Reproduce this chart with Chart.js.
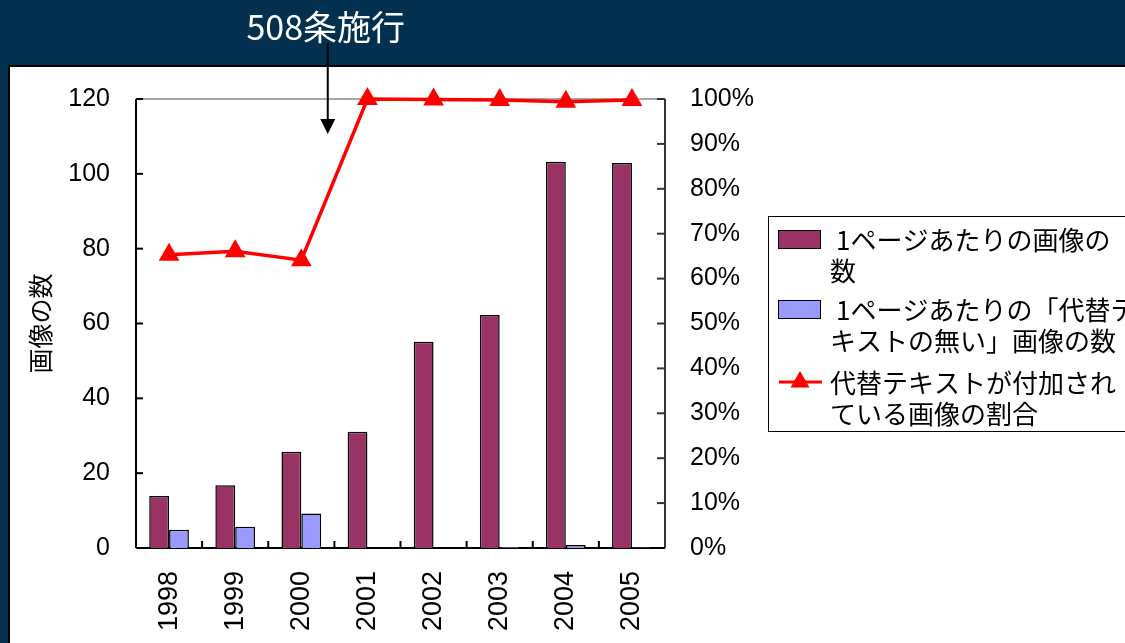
<!DOCTYPE html>
<html><head><meta charset="utf-8">
<script src="https://cdn.jsdelivr.net/npm/chart.js@4/dist/chart.umd.min.js"></script>
<style>
html,body{margin:0;padding:0;width:1125px;height:643px;overflow:hidden;background:#03304f;}
#panel{position:absolute;left:8px;top:65px;width:1200px;height:700px;background:#fff;border:2px solid #000;box-sizing:border-box;}
#wrap{position:absolute;left:0;top:0;width:1125px;height:643px;}
</style></head><body>
<div id="panel"></div>
<div id="wrap"><canvas id="c" width="1125" height="643"></canvas></div>
<script>
const categories = ['1998','1999','2000','2001','2002','2003','2004','2005'];
const imagesPerPage = [13.9, 16.8, 25.7, 31.1, 55.1, 62.3, 103.2, 102.9];
const imagesWithoutAlt = [4.9, 5.7, 9.2, 0, 0, 0.3, 0.8, 0.2];
const altTextRatio = [65.3, 66.1, 64.1, 100, 99.9, 99.8, 99.4, 99.8];
const leftAxisTicks = [0, 20, 40, 60, 80, 100, 120];
const rightAxisTicks = [0, 10, 20, 30, 40, 50, 60, 70, 80, 90, 100];
const seriesNames = ['1ページあたりの画像の数', '1ページあたりの「代替テキストの無い」画像の数', '代替テキストが付加されている画像の割合'];
const legendLines = [['1ページあたりの画像の', '数'], ['1ページあたりの「代替テ', 'キストの無い」画像の数'], ['代替テキストが付加され', 'ている画像の割合']];
const yAxisTitle = '画像の数';
const annotationText = '508条施行';

const NUM_FONT = "'Liberation Sans', Arial, sans-serif";
const JP_FONT = "'Noto Sans CJK JP', 'Noto Sans', sans-serif";

const decor = {
  id: 'decor',
  beforeDatasetsDraw(chart) {
    const ctx = chart.ctx, a = chart.chartArea;
    const y = chart.scales.y, y1 = chart.scales.y1, x = chart.scales.x;
    ctx.save();
    ctx.strokeStyle = '#a6a6a6'; ctx.lineWidth = 2;
    ctx.beginPath(); ctx.moveTo(a.left, a.top); ctx.lineTo(a.right, a.top); ctx.stroke();
    ctx.strokeStyle = '#000'; ctx.lineWidth = 2;
    ctx.beginPath(); ctx.moveTo(a.left, a.top); ctx.lineTo(a.left, a.bottom); ctx.stroke();
    leftAxisTicks.forEach(v => { const p = y.getPixelForValue(v); ctx.beginPath(); ctx.moveTo(a.left, p); ctx.lineTo(a.left + 7, p); ctx.stroke(); });
    ctx.strokeStyle = '#333';
    ctx.beginPath(); ctx.moveTo(a.right, a.top); ctx.lineTo(a.right, a.bottom); ctx.stroke();
    rightAxisTicks.forEach(v => { const p = y1.getPixelForValue(v); ctx.beginPath(); ctx.moveTo(a.right, p); ctx.lineTo(a.right - 8, p); ctx.stroke(); });
    ctx.strokeStyle = '#000';
    ctx.beginPath(); ctx.moveTo(a.left, a.bottom); ctx.lineTo(a.right, a.bottom); ctx.stroke();
    for (let i = 1; i < categories.length; i++) {
      const p = (x.getPixelForValue(i - 1) + x.getPixelForValue(i)) / 2;
      ctx.beginPath(); ctx.moveTo(p, a.bottom); ctx.lineTo(p, a.bottom - 7); ctx.stroke();
    }
    ctx.restore();
  },
  afterDraw(chart) {
    const ctx = chart.ctx, x = chart.scales.x;
    const ds = chart.data.datasets;
    ctx.save();
    const ax = x.getPixelForValue(2) + 0.4 * (x.getPixelForValue(3) - x.getPixelForValue(2));
    ctx.fillStyle = '#fff';
    ctx.font = "34px " + JP_FONT;
    ctx.textAlign = 'center'; ctx.textBaseline = 'middle';
    ctx.fillText(annotationText, ax - 2, 27);
    ctx.strokeStyle = '#000'; ctx.lineWidth = 2;
    ctx.beginPath(); ctx.moveTo(ax, 43); ctx.lineTo(ax, 120); ctx.stroke();
    ctx.fillStyle = '#000';
    ctx.beginPath(); ctx.moveTo(ax - 7.5, 119); ctx.lineTo(ax + 7.5, 119); ctx.lineTo(ax, 134); ctx.closePath(); ctx.fill();
    const lx = 768, ly = 216, lb = 431;
    ctx.strokeStyle = '#000'; ctx.lineWidth = 1;
    ctx.strokeRect(lx + 0.5, ly + 0.5, 1125 - lx + 10, lb - ly);
    const rows = [239, 309, 382];
    ctx.font = "26px " + JP_FONT;
    ctx.textAlign = 'left'; ctx.textBaseline = 'middle';
    const order = [1, 2, 0];
    rows.forEach((ry, i) => {
      const d = ds[order[i]];
      if (d.type === 'line') {
        ctx.strokeStyle = d.borderColor; ctx.lineWidth = 3;
        ctx.beginPath(); ctx.moveTo(779, ry); ctx.lineTo(822, ry); ctx.stroke();
        ctx.fillStyle = d.pointBackgroundColor;
        const r = 11;
        ctx.beginPath(); ctx.moveTo(800, ry - r); ctx.lineTo(800 + 0.866 * r, ry + r / 2); ctx.lineTo(800 - 0.866 * r, ry + r / 2); ctx.closePath(); ctx.fill();
      } else {
        ctx.fillStyle = d.backgroundColor;
        ctx.fillRect(778, ry - 9, 42, 18);
        ctx.strokeStyle = '#000'; ctx.lineWidth = 1;
        ctx.strokeRect(778.5, ry - 8.5, 42, 18);
      }
      ctx.fillStyle = '#000';
      legendLines[i].forEach((t, k) => ctx.fillText(t, k === 0 && i < 2 ? 836 : 830, ry + 1 + k * 31));
    });
    ctx.restore();
  }
};

new Chart(document.getElementById('c'), {
  data: {
    labels: categories,
    datasets: [
      { type: 'line', label: seriesNames[2], data: altTextRatio, yAxisID: 'y1', order: 0,
        borderColor: '#ff0000', backgroundColor: '#ff0000', borderWidth: 3.5,
        pointStyle: 'triangle', pointRadius: 12, pointBackgroundColor: '#ff0000', pointBorderColor: '#ff0000', pointBorderWidth: 0,
        tension: 0, clip: false },
      { type: 'bar', label: seriesNames[0], data: imagesPerPage, yAxisID: 'y', order: 1,
        backgroundColor: '#993366', borderColor: '#000', borderWidth: 1.5,
        categoryPercentage: 0.6, barPercentage: 1.0 },
      { type: 'bar', label: seriesNames[1], data: imagesWithoutAlt, yAxisID: 'y', order: 1,
        backgroundColor: '#9999ff', borderColor: '#000', borderWidth: 1.5,
        categoryPercentage: 0.6, barPercentage: 1.0 }
    ]
  },
  options: {
    responsive: false, animation: false,
    layout: { padding: { top: 99, left: 0, right: 0, bottom: 0 } },
    plugins: { legend: { display: false }, tooltip: { enabled: false } },
    scales: {
      x: {
        type: 'category', offset: true,
        grid: { display: false, drawTicks: false }, border: { display: false },
        ticks: { autoSkip: false, minRotation: 90, maxRotation: 90, padding: 23, color: '#000', font: { family: NUM_FONT, size: 27 } },
        afterFit: s => { s.height = 643 - 548; }
      },
      y: {
        position: 'left', min: 0, max: 120,
        afterBuildTicks: s => { s.ticks = leftAxisTicks.map(v => ({ value: v })); },
        grid: { display: false, drawTicks: false }, border: { display: false },
        ticks: { padding: 26, color: '#000', font: { family: NUM_FONT, size: 25 } },
        title: { display: true, text: yAxisTitle, color: '#000', font: { family: JP_FONT, size: 25 }, padding: { top: 25 } },
        afterFit: s => { s.width = 136; }
      },
      y1: {
        position: 'right', min: 0, max: 100,
        afterBuildTicks: s => { s.ticks = rightAxisTicks.map(v => ({ value: v })); },
        grid: { display: false, drawTicks: false }, border: { display: false },
        ticks: { padding: 25, color: '#000', font: { family: NUM_FONT, size: 25 }, callback: v => v + '%' },
        afterFit: s => { s.width = 1125 - 665; }
      }
    }
  },
  plugins: [decor]
});
</script>
</body></html>
